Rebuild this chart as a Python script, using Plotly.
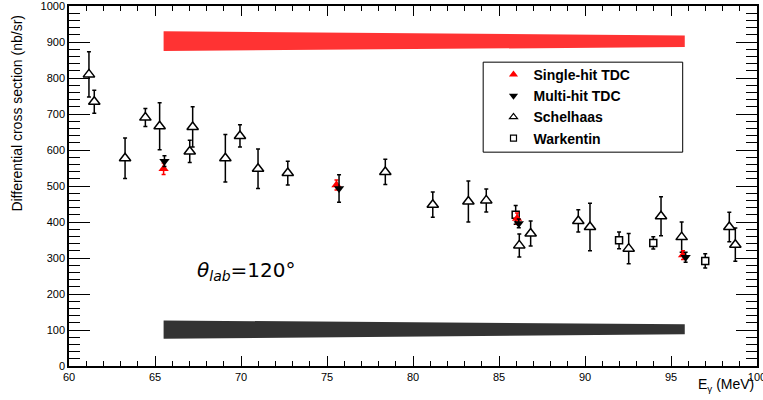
import plotly.graph_objects as go

# Schelhaas (open triangles)
sch_x = [61.16, 61.47, 63.26, 64.44, 65.27, 67.02, 67.19, 69.09, 69.94, 70.99, 72.72,
         78.39, 81.15, 83.22, 84.26, 86.18, 86.84, 89.61, 90.29, 92.54, 94.42, 95.62,
         98.39, 98.74]
sch_y = [810, 734, 577, 690, 666, 596, 664, 577, 639, 548, 536,
         539, 448, 457, 460, 335, 368, 403, 386, 326, 416, 358,
         386, 337]
sch_e = [63, 32, 56, 25, 65, 31, 56, 66, 31, 55, 33,
         35, 35, 57, 32, 32, 35, 31, 66, 42, 54, 42,
         41, 46]

# Warkentin (open squares)
wk_x = [85.97, 91.98, 93.97, 96.99]
wk_y = [420, 349, 342, 292]
wk_e = [26, 23, 17, 20]

# Single-hit TDC (red up triangles)
sh_x = [65.50, 75.55, 86.05, 95.70]
sh_y = [548, 503, 410, 308]
sh_e = [16, 14, 15, 12]

# Multi-hit TDC (black down triangles)
mh_x = [65.55, 75.70, 86.15, 95.85]
mh_y = [569, 493, 396, 302]
mh_e = [15, 38, 12, 14]

# systematic bands
band_x = [65.5, 95.8]
red_c = [902.5, 902.0]
red_h = [27.5, 16.0]
dark_c = [101.0, 102.0]
dark_h = [25.5, 14.0]

legend_names = ["Single-hit TDC", "Multi-hit TDC", "Schelhaas", "Warkentin"]

FONT = "Liberation Sans, Arial, Helvetica, sans-serif"

fig = go.Figure()

def band(xs, c, h, color):
    lo = [ci - hi for ci, hi in zip(c, h)]
    up = [ci + hi for ci, hi in zip(c, h)]
    fig.add_trace(go.Scatter(
        x=xs + xs[::-1], y=lo + up[::-1], fill="toself", fillcolor=color,
        mode="lines", line=dict(width=0, color=color), showlegend=False,
        hoverinfo="skip"))

band(band_x, red_c, red_h, "#ff3333")
band(band_x, dark_c, dark_h, "#333333")

err_style = dict(type="data", color="black", thickness=1.5, width=2)

sch_marker = dict(symbol="triangle-up", size=10, color="white", line=dict(color="black", width=1.5))
wk_marker = dict(symbol="square", size=7, color="white", line=dict(color="black", width=1.5))
sh_marker = dict(symbol="triangle-up", size=9, color="#ff0000")
mh_marker = dict(symbol="triangle-down", size=9, color="black")

fig.add_trace(go.Scatter(x=sch_x, y=sch_y, mode="markers", showlegend=False,
                         marker=sch_marker, error_y=dict(array=sch_e, **err_style)))
fig.add_trace(go.Scatter(x=wk_x, y=wk_y, mode="markers", showlegend=False,
                         marker=wk_marker, error_y=dict(array=wk_e, **err_style)))
fig.add_trace(go.Scatter(x=sh_x, y=sh_y, mode="markers", showlegend=False,
                         marker=sh_marker,
                         error_y=dict(array=sh_e, **{**err_style, "color": "#ff0000"})))
fig.add_trace(go.Scatter(x=mh_x, y=mh_y, mode="markers", showlegend=False,
                         marker=mh_marker, error_y=dict(array=mh_e, **err_style)))

# legend-only entries (small symbols, as in the reference legend)
leg_markers = [
    dict(symbol="triangle-up", size=8, color="#ff0000"),
    dict(symbol="triangle-down", size=8, color="black"),
    dict(symbol="triangle-up-open", size=7, color="black", line=dict(width=1.2)),
    dict(symbol="square-open", size=6, color="black", line=dict(width=1.2)),
]
for i, (nm, mk) in enumerate(zip(legend_names, leg_markers)):
    fig.add_trace(go.Scatter(x=[None], y=[None], mode="markers", name="<b>%s</b>" % nm,
                             marker=mk, legendrank=i + 1))

axis_common = dict(
    showgrid=False, zeroline=False, showline=True, linecolor="black", linewidth=1.5,
    mirror="ticks", ticks="inside", tickcolor="black", tickwidth=1, automargin=False,
    ticklabeloverflow="allow",
    tickfont=dict(family=FONT, size=11, color="black"),
)

fig.update_xaxes(range=[60, 100], dtick=5, tick0=60, ticklen=10,
                 minor=dict(dtick=1, ticklen=5, ticks="inside", tickcolor="black", tickwidth=1),
                 **axis_common)
fig.update_yaxes(range=[0, 1000], dtick=100, tick0=0, ticklen=21,
                 minor=dict(dtick=20, ticklen=11, ticks="inside", tickcolor="black", tickwidth=1),
                 **axis_common)

fig.add_shape(type="rect", xref="paper", yref="paper",
              x0=0.602, x1=0.892, y0=0.594, y1=0.844,
              line=dict(color="black", width=1), fillcolor="white", layer="below")

fig.add_annotation(text="Differential cross section (nb/sr)", xref="paper", yref="paper",
                   x=-0.0756, y=0.983, xanchor="center", yanchor="top", textangle=-90,
                   showarrow=False, font=dict(family=FONT, size=14, color="black"))
fig.add_annotation(text="E<sub>γ</sub> (MeV)", xref="paper", yref="paper",
                   x=0.998, y=-0.053, xanchor="right", yanchor="middle",
                   showarrow=False, font=dict(family=FONT, size=14, color="black"))
fig.add_annotation(text="<i>θ</i><sub><i>lab</i></sub>=120°", xref="paper", yref="paper",
                   x=0.183, y=0.264, xanchor="left", yanchor="middle",
                   showarrow=False, font=dict(family="DejaVu Sans, sans-serif", size=20, color="black"))

fig.update_layout(
    width=763, height=400,
    margin=dict(l=69, r=6, t=6, b=34),
    paper_bgcolor="white", plot_bgcolor="white",
    showlegend=True,
    legend=dict(x=0.617, y=0.853, xanchor="left", yanchor="top",
                bgcolor="rgba(0,0,0,0)", borderwidth=0, tracegroupgap=0,
                font=dict(family=FONT, size=14, color="black"),
                itemsizing="trace"),
)

fig.write_html("out.html", config={"displayModeBar": False},
               post_script="document.body.style.margin='0';document.body.style.padding='0';")
